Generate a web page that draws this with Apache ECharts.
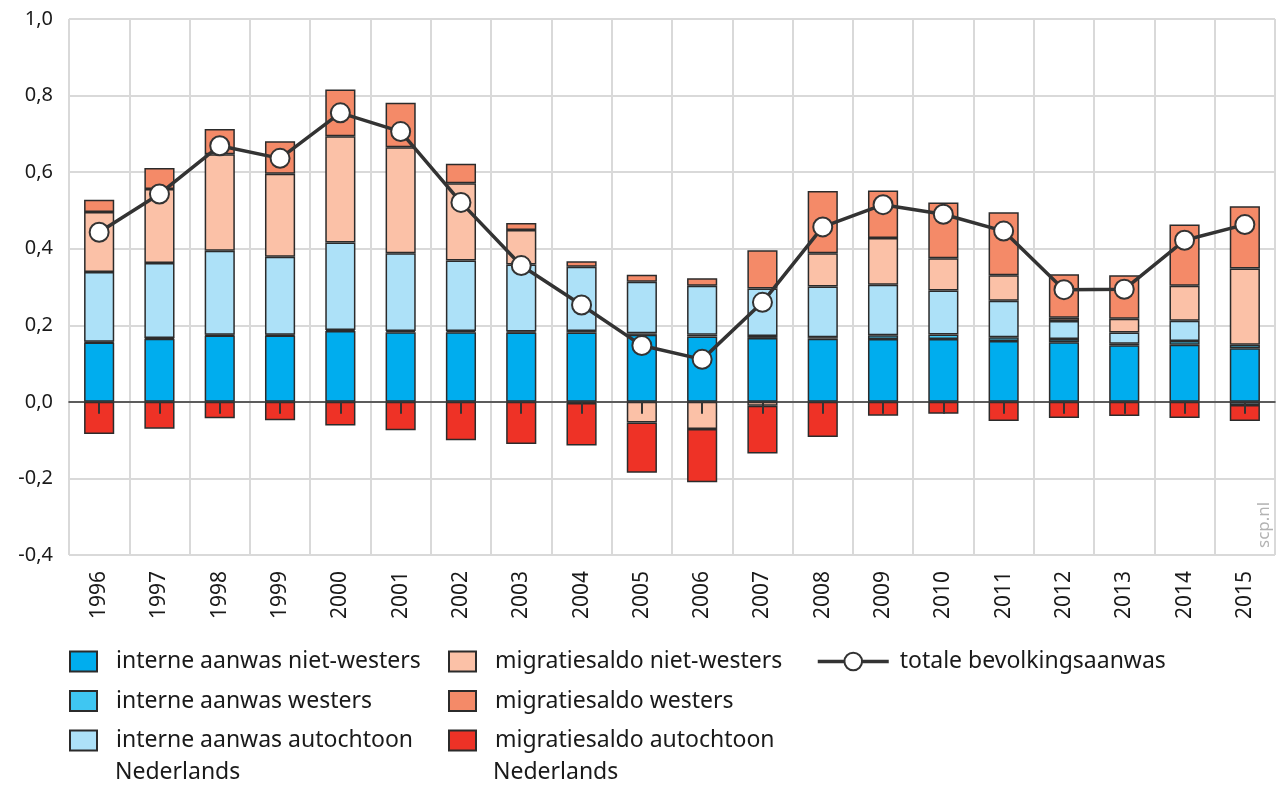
<!DOCTYPE html>
<html>
<head>
<meta charset="utf-8">
<title>Bevolkingsaanwas 1996-2015</title>
<script src="https://cdn.jsdelivr.net/npm/echarts@6/dist/echarts.min.js"></script>
<style>
    html, body { margin: 0; padding: 0; background: #fff; }
    #chart1 { width: 1277px; height: 785px; }
</style>
</head>
<body>
<div id="chart1"></div>
<script>
/* gegevens (procent) */
var years = ['1996', '1997', '1998', '1999', '2000', '2001', '2002', '2003', '2004', '2005',
             '2006', '2007', '2008', '2009', '2010', '2011', '2012', '2013', '2014', '2015'];

var interneNietWesters = [0.155, 0.165, 0.173, 0.173, 0.185, 0.182, 0.182, 0.181, 0.181, 0.175,
                          0.171, 0.167, 0.165, 0.164, 0.164, 0.159, 0.156, 0.148, 0.149, 0.140];
var interneWesters = [0.002, 0.002, 0.002, 0.002, 0.003, 0.003, 0.003, 0.003, 0.004, 0.004,
                      0.004, 0.005, 0.004, 0.010, 0.012, 0.010, 0.008, 0.004, 0.010, 0.009];
var interneAutochtoon = [0.182, 0.196, 0.220, 0.204, 0.228, 0.203, 0.184, 0.175, 0.168, 0.135,
                         0.128, 0.124, 0.132, 0.132, 0.115, 0.095, 0.047, 0.029, 0.053, -0.008];
var migratieNietWesters = [0.157, 0.193, 0.252, 0.217, 0.278, 0.277, 0.202, 0.090, -0.003, -0.054,
                           -0.071, -0.010, 0.087, 0.122, 0.084, 0.067, 0.009, 0.036, 0.091, 0.199];
var migratieWesters = [0.032, 0.055, 0.066, 0.085, 0.122, 0.116, 0.051, 0.018, 0.014, 0.018,
                       0.020, 0.100, 0.163, 0.124, 0.146, 0.164, 0.113, 0.114, 0.160, 0.163];
var migratieAutochtoon = [-0.084, -0.070, -0.043, -0.048, -0.062, -0.074, -0.100, -0.110, -0.111, -0.131,
                          -0.139, -0.125, -0.092, -0.036, -0.031, -0.050, -0.042, -0.037, -0.042, -0.042];
var totaal = [0.443, 0.543, 0.669, 0.636, 0.755, 0.706, 0.521, 0.356, 0.253, 0.147,
              0.111, 0.260, 0.457, 0.515, 0.490, 0.446, 0.293, 0.294, 0.422, 0.463];

var yTicks = [-0.4, -0.2, 0, 0.2, 0.4, 0.6, 0.8, 1.0];

var ChartOper = function () {

    var fontFam = '"Noto Sans", sans-serif';
    var rand = '#2b2b2b';
    var rasterKleur = '#d9d9d9';
    var tekstKleur = '#1a1a1a';

    // stapelbalk-serie
    var barSerie = function (name, data, kleur) {
        return {
            name: name,
            type: 'bar',
            stack: 'aanwas',
            barWidth: '50%',
            data: data,
            itemStyle: {
                color: kleur,
                borderColor: rand,
                borderWidth: 1.5
            },
            emphasis: { disabled: true }
        };
    }

    // legendakolom met vierkantjes
    var legendKolom = function (left, names) {
        return {
            left: left, top: 645, orient: 'vertical',
            icon: 'rect',
            itemWidth: 27, itemHeight: 20, itemGap: 16.5,
            textStyle: { fontSize: 23, color: tekstKleur, padding: [0, 0, 0, 14] },
            formatter: function (n) { return n.replace(' Nederlands', ''); },
            data: names
        };
    }

    var getOption = function () {
        return {
            animation: false,
            textStyle: { fontFamily: fontFam },
            grid: { left: 69, right: 2, top: 19, bottom: 230 },
            legend: [
                legendKolom(64, ['interne aanwas niet-westers', 'interne aanwas westers', 'interne aanwas autochtoon Nederlands']),
                legendKolom(443, ['migratiesaldo niet-westers', 'migratiesaldo westers', 'migratiesaldo autochtoon Nederlands']),
                {
                    left: 811, top: 645, orient: 'vertical',
                    itemWidth: 71, itemHeight: 22,
                    lineStyle: { width: 3.5, color: '#333' },
                    textStyle: { fontSize: 23, color: tekstKleur, padding: [0, 0, 0, 6] },
                    data: ['totale bevolkingsaanwas']
                }
            ],
            graphic: [
                { type: 'text', left: 115, top: 761, style: { text: 'Nederlands', font: '23px ' + fontFam, fill: tekstKleur } },
                { type: 'text', left: 493, top: 761, style: { text: 'Nederlands', font: '23px ' + fontFam, fill: tekstKleur } },
                { type: 'text', x: 1256, y: 548, rotation: Math.PI / 2,
                  style: { text: 'scp.nl', font: '17px ' + fontFam, fill: '#b3b3b3' } }
            ],
            xAxis: [
                {
                    type: 'category',
                    data: years,
                    position: 'bottom',
                    axisLine: { show: false, onZero: false },
                    axisTick: { show: false },
                    axisLabel: { rotate: 90, fontSize: 21, color: tekstKleur, margin: 16, interval: 0 },
                    splitLine: { show: true, interval: 0, lineStyle: { color: rasterKleur, width: 2 } }
                },
                {
                    // nullijn met streepjes
                    type: 'category',
                    data: years,
                    position: 'bottom',
                    z: 10,
                    axisLine: { show: true, onZero: true, lineStyle: { color: '#333', width: 1.5 } },
                    axisTick: { show: true, alignWithLabel: true, interval: 0, length: 12, lineStyle: { color: '#333', width: 2 } },
                    axisLabel: { show: false },
                    splitLine: { show: false }
                }
            ],
            yAxis: {
                type: 'value',
                min: yTicks[0],
                max: yTicks[yTicks.length - 1],
                interval: 0.2,
                axisLine: { show: false },
                axisTick: { show: false },
                axisLabel: {
                    fontSize: 20, color: tekstKleur, margin: 16,
                    formatter: function (v) { return v.toFixed(1).replace('.', ','); }
                },
                splitLine: { lineStyle: { color: rasterKleur, width: 2 } }
            },
            series: [
                barSerie('interne aanwas niet-westers', interneNietWesters, '#00adee'),
                barSerie('interne aanwas westers', interneWesters, '#3fc6f2'),
                barSerie('interne aanwas autochtoon Nederlands', interneAutochtoon, '#ade1f8'),
                barSerie('migratiesaldo niet-westers', migratieNietWesters, '#fbc1a7'),
                barSerie('migratiesaldo westers', migratieWesters, '#f48a68'),
                barSerie('migratiesaldo autochtoon Nederlands', migratieAutochtoon, '#ee3226'),
                {
                    name: 'totale bevolkingsaanwas',
                    type: 'line',
                    data: totaal,
                    z: 5,
                    symbol: 'circle',
                    symbolSize: 19,
                    lineStyle: { color: '#333', width: 3.5 },
                    itemStyle: { color: '#fff', borderColor: '#333', borderWidth: 2 },
                    emphasis: { disabled: true }
                }
            ]
        };
    }

    var loadChart = function (selector) {
        var myChart = echarts.init(document.querySelector(selector));
        myChart.setOption(getOption());
    }

    return {
        queryChart1: function () {
            loadChart('#chart1');
        }
    }
}();

ChartOper.queryChart1();
</script>
</body>
</html>
